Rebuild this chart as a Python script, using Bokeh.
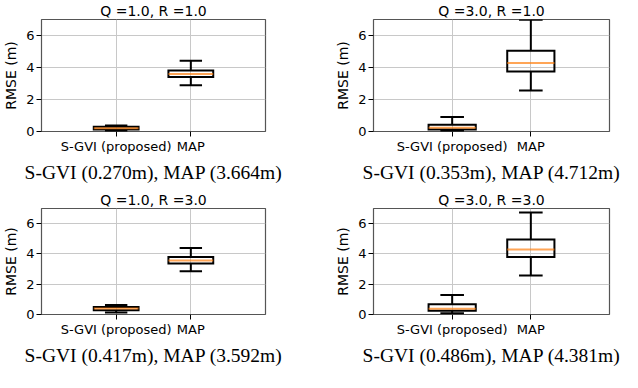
from bokeh.plotting import figure
from bokeh.layouts import column, row
from bokeh.models import FixedTicker, Range1d, Title
from bokeh.embed import file_html
from bokeh.resources import INLINE

titles = ["Q =1.0, R =1.0", "Q =3.0, R =1.0", "Q =1.0, R =3.0", "Q =3.0, R =3.0"]
captions = ["S-GVI (0.270m), MAP (3.664m)", "S-GVI (0.353m), MAP (4.712m)",
            "S-GVI (0.417m), MAP (3.592m)", "S-GVI (0.486m), MAP (4.381m)"]
methods = ["S-GVI (proposed)", "MAP"]
positions = [1, 2]
y_ticks = [0, 2, 4, 6]
x_lim = (0, 3)
y_lim = (0, 7)

sgvi_low = [0.03, 0.03, 0.13, 0.09]
sgvi_q1 = [0.12, 0.13, 0.28, 0.25]
sgvi_med = [0.20, 0.23, 0.39, 0.38]
sgvi_q3 = [0.30, 0.42, 0.50, 0.68]
sgvi_high = [0.38, 0.90, 0.63, 1.29]

map_low = [2.89, 2.56, 2.85, 2.58]
map_q1 = [3.41, 3.75, 3.36, 3.80]
map_med = [3.60, 4.28, 3.57, 4.29]
map_q3 = [3.81, 5.05, 3.80, 4.96]
map_high = [4.42, 6.98, 4.39, 6.74]

BOX_HALF = 0.3
CAP_HALF = 0.15


def make_panel(i, width, height, mb_left, mb_right, cap_standoff):
    p = figure(width=width, height=height, output_backend="svg", toolbar_location=None,
               x_range=Range1d(*x_lim), y_range=Range1d(*y_lim),
               min_border_left=mb_left, min_border_right=mb_right,
               min_border_top=0, min_border_bottom=0)
    p.title.text = titles[i]
    p.title.text_font = "DejaVu Sans"
    p.title.text_font_size = "14px"
    p.title.text_font_style = "normal"
    p.title.text_color = "black"
    p.title.align = "center"
    p.title.standoff = 1
    p.title.offset = 0

    p.outline_line_color = "#555555"
    p.outline_line_width = 1.2
    p.background_fill_color = "white"
    p.border_fill_color = "white"

    p.xaxis.ticker = FixedTicker(ticks=positions)
    p.xaxis.major_label_overrides = {pos: m for pos, m in zip(positions, methods)}
    p.yaxis.ticker = FixedTicker(ticks=y_ticks)
    for ax in (p.xaxis, p.yaxis):
        ax.axis_line_color = None
        ax.major_tick_in = 0
        ax.major_tick_out = 5
        ax.major_tick_line_color = "black"
        ax.minor_tick_line_color = None
        ax.major_label_text_font = "DejaVu Sans"
        ax.major_label_text_font_size = "13px"
        ax.major_label_text_color = "black"
        ax.major_label_standoff = 2
        ax.axis_label_text_color = "black"
    p.yaxis.axis_label = "RMSE (m)"
    p.yaxis.axis_label_text_font = "DejaVu Sans"
    p.yaxis.axis_label_text_font_size = "14px"
    p.yaxis.axis_label_text_font_style = "normal"
    p.yaxis.axis_label_standoff = 4

    cap = Title(text=captions[i], text_font="Liberation Serif", text_font_size="19.5px",
                text_font_style="normal", text_color="black", align="center",
                vertical_align="top", standoff=cap_standoff, offset=0)
    p.add_layout(cap, "below")

    p.grid.grid_line_color = "#c8c8c8"
    p.grid.grid_line_width = 1

    lows = [sgvi_low[i], map_low[i]]
    q1s = [sgvi_q1[i], map_q1[i]]
    meds = [sgvi_med[i], map_med[i]]
    q3s = [sgvi_q3[i], map_q3[i]]
    highs = [sgvi_high[i], map_high[i]]
    lefts = [x - BOX_HALF for x in positions]
    rights = [x + BOX_HALF for x in positions]
    cl = [x - CAP_HALF for x in positions]
    cr = [x + CAP_HALF for x in positions]

    # whiskers
    p.segment(x0=positions, x1=positions, y0=q3s, y1=highs, line_color="black", line_width=2)
    p.segment(x0=positions, x1=positions, y0=lows, y1=q1s, line_color="black", line_width=2)
    # caps
    p.segment(x0=cl, x1=cr, y0=highs, y1=highs, line_color="black", line_width=2)
    p.segment(x0=cl, x1=cr, y0=lows, y1=lows, line_color="black", line_width=2)
    # boxes
    p.quad(left=lefts, right=rights, bottom=q1s, top=q3s, fill_alpha=0,
           line_color="black", line_width=2, line_join="miter")
    # medians
    p.segment(x0=lefts, x1=rights, y0=meds, y1=meds, line_color="#ff7f0e",
              line_alpha=0.7, line_width=2)
    return p


f1 = make_panel(0, 311, 189, 29, 46, 10)
f2 = make_panel(1, 311, 189, 62, 13, 10)
f3 = make_panel(2, 311, 183, 29, 46, 10)
f4 = make_panel(3, 311, 183, 62, 13, 10)

layout = column(row(f1, f2), row(f3, f4))
open("out.html", "w").write(file_html(layout, INLINE))
